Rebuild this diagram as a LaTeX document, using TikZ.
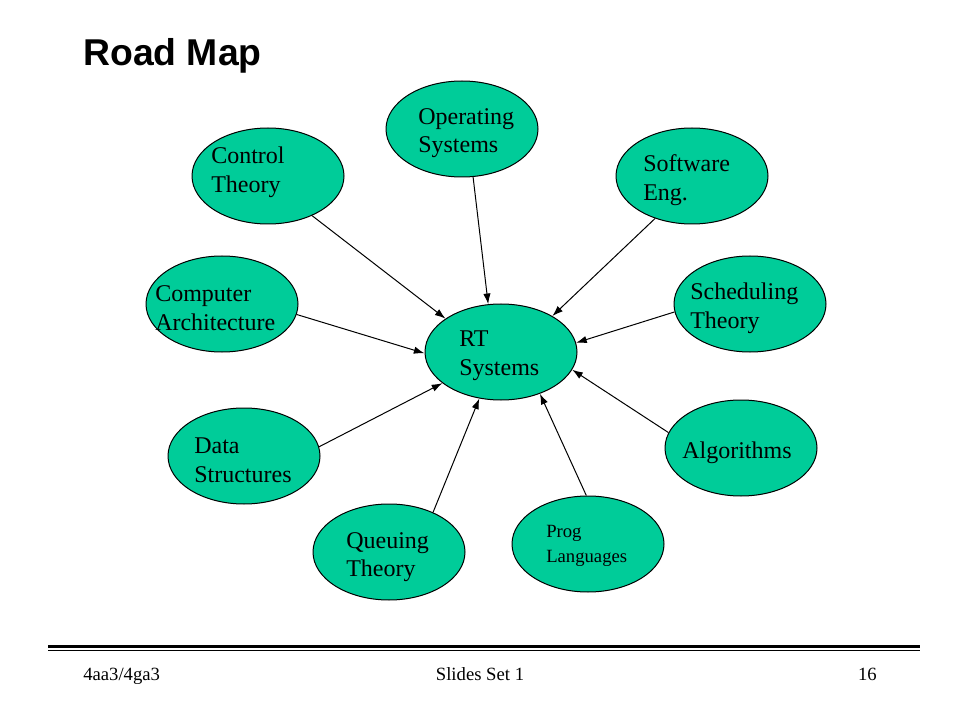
\documentclass[tikz,border=0pt]{standalone}
\usepackage{fontspec}
\setmainfont{Liberation Serif}
\newfontfamily\titlefont{Liberation Sans}
\usetikzlibrary{arrows.meta,shapes.geometric}
\definecolor{ellfill}{RGB}{0,204,153}
\tikzset{
  ell/.style={ellipse, draw=black, line width=0.75pt, fill=ellfill, minimum width=114pt, minimum height=72pt, inner sep=0pt},
  txt/.style={anchor=west, align=left, inner sep=0pt, font=\fontsize{18}{21.5}\selectfont},
  small/.style={anchor=west, align=left, inner sep=0pt, font=\fontsize{14}{18.5}\selectfont},
  arr/.style={line width=0.75pt, -{Latex[length=8pt,width=5.5pt]}},
  foot/.style={inner sep=0pt, font=\fontsize{14}{16}\selectfont}
}
\begin{document}
\begin{tikzpicture}[x=0.75pt,y=-0.75pt]
\useasboundingbox (0,0) rectangle (960,720);
% title
\node[anchor=base west, inner sep=0pt, font=\titlefont\bfseries\fontsize{28}{30}\selectfont] (title) at (83,66) {Road Map};
% ellipses
\node[ell] (os) at (462,129) {};
\node[ell] (ct) at (268,176) {};
\node[ell] (se) at (692,176) {};
\node[ell] (ca) at (222,304) {};
\node[ell] (st) at (750,304) {};
\node[ell] (rt) at (501,352) {};
\node[ell] (ds) at (244,456) {};
\node[ell] (al) at (741,448) {};
\node[ell] (qt) at (389,552) {};
\node[ell] (pl) at (588,544) {};
% texts
\node[txt] (ost) at (418,133) {Operating\\Systems};
\node[txt] (ctt) at (211,172) {Control\\Theory};
\node[txt] (set) at (643,180) {Software\\Eng.};
\node[txt] (cat) at (155,308) {Computer\\Architecture};
\node[txt] (stt) at (690,308) {Scheduling\\Theory};
\node[txt] (rtt) at (459,356) {RT\\Systems};
\node[txt] (dst) at (194,460) {Data\\Structures};
\node[txt] (alt) at (682,453) {Algorithms};
\node[txt] (qtt) at (346,557) {Queuing\\Theory};
\node[small] (plt) at (546,546) {Prog\\Languages};
% arrows
\draw[arr] (ct.-42) -- (rt.149);
\draw[arr] (os.-77) -- (rt.105);
\draw[arr] (se.229) -- (rt.35);
\draw[arr] (ca.-8) -- (rt.181);
\draw[arr] (st.186) -- (rt.7);
\draw[arr] (ds.7.5) -- (rt.208);
\draw[arr] (al.168) -- (rt.346);
\draw[arr] (qt.42) -- (rt.245);
\draw[arr] (pl.92) -- (rt.313);
% footer rules
\coordinate (l1) at (48,646.6);
\coordinate (r1) at (920,646.6);
\coordinate (l2) at (48,650.5);
\coordinate (r2) at (920,650.5);
\draw[line width=2.6pt] (l1) -- (r1);
\draw[line width=0.9pt] (l2) -- (r2);
\node[foot, anchor=base west] (f1) at (83,680) {4aa3/4ga3};
\node[foot, anchor=base] (f2) at (480,680) {Slides Set 1};
\node[foot, anchor=base east] (f3) at (877,680) {16};
\end{tikzpicture}
\end{document}
